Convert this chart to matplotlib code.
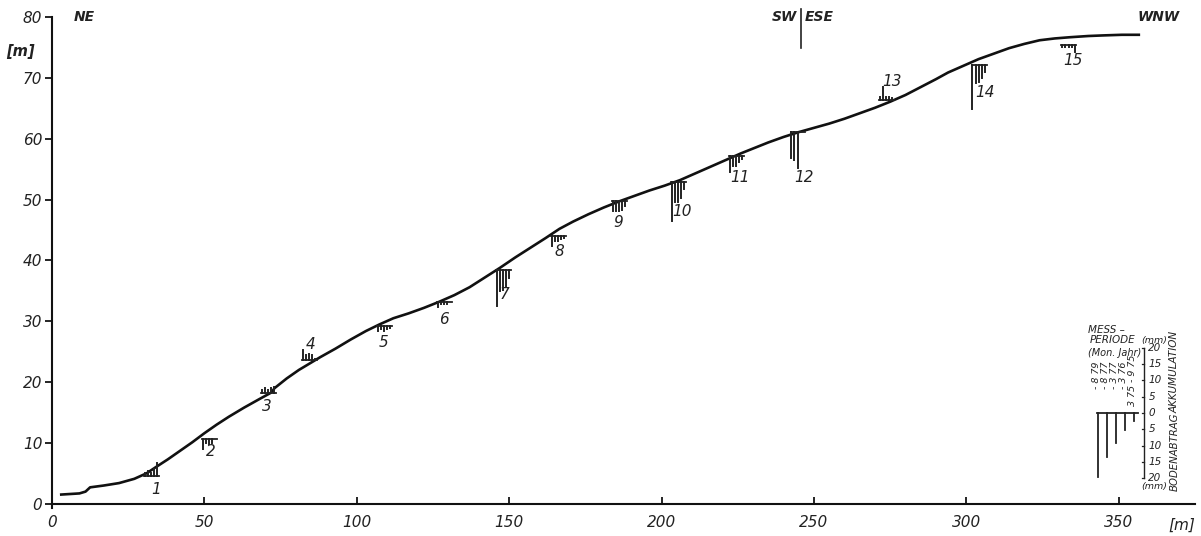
import matplotlib.pyplot as plt
import numpy as np

# Hangprofil (Entfernung / Hoehe in m)
prof_x = [2.6, 9, 11, 12.5, 17, 22, 27, 31, 34, 38, 42, 46, 50, 54, 58, 63, 68, 72, 73,
          77, 81, 88, 93, 98, 103, 107.5, 112, 117, 122, 127, 132, 137, 142, 147, 152,
          157, 162, 166.5, 171, 176, 181, 186, 191, 196, 201, 206, 211, 216, 221, 226,
          231, 235, 240, 245, 250, 255, 260, 265, 270, 275, 280, 285, 290, 294, 299,
          304, 309, 314, 319, 324, 329, 334, 340, 345, 351, 357]
prof_y = [1.5, 1.7, 2.0, 2.7, 3.0, 3.4, 4.1, 5.0, 6.0, 7.3, 8.7, 10.1, 11.6, 13.0, 14.3,
          15.8, 17.2, 18.3, 19.0, 20.6, 22.0, 24.1, 25.5, 27.0, 28.4, 29.5, 30.5, 31.3,
          32.2, 33.2, 34.3, 35.6, 37.2, 38.8, 40.5, 42.1, 43.7, 45.2, 46.4, 47.6, 48.7,
          49.7, 50.6, 51.5, 52.3, 53.2, 54.3, 55.4, 56.5, 57.6, 58.6, 59.4, 60.3, 61.1,
          61.8, 62.5, 63.3, 64.2, 65.1, 66.1, 67.2, 68.5, 69.8, 70.9, 72.0, 73.1, 74.0,
          74.9, 75.6, 76.2, 76.5, 76.7, 76.9, 77.0, 77.1, 77.1]

# Messstellen: Lage, Hoehe der Nulllinie, Bodenabtrag(-)/Akkumulation(+) in mm
st_num = list(range(1, 16))
st_x = [30.5, 49.5, 68.9, 82.3, 106.9, 126.6, 145.9, 163.9, 183.9, 203.3, 222.3, 242.6,
        271.5, 302.0, 331.5]
st_y = [4.6, 10.6, 18.2, 23.6, 29.2, 33.1, 38.4, 44.0, 49.7, 52.9, 57.2, 61.1, 66.4,
        72.1, 75.4]
st_val = [
    [1.0, 1.5, 1.0, 2.0, 4.0],
    [-3.0, -1.0, -1.5, -1.0, 0.0],
    [1.0, 1.5, 1.0, 1.5, 2.0],
    [3.0, 1.5, 2.0, 1.5, 0.5],
    [-1.5, -1.0, -1.5, -1.0, -0.5],
    [-1.5, -0.5, -0.5, -0.5, 0.0],
    [-11.0, -6.5, -6.0, -5.0, -2.5],
    [-3.0, -1.5, -1.5, -1.0, -0.5],
    [-3.0, -3.0, -3.0, -2.5, -1.5],
    [-12.0, -6.0, -6.0, -5.0, -2.0],
    [-5.0, -3.0, -3.0, -2.0, -1.0],
    [-8.0, -8.5, -11.0, 0.0, 0.0],
    [1.0, 4.0, 1.0, 1.0, 0.5],
    [-13.5, -5.5, -5.0, -4.0, -2.0],
    [-0.5, -0.5, -0.5, -0.5, -2.0],
]
# Lage der Ziffern (Versatz zur Messstelle in m)
lab_dx = [3.5, 2.5, 1.5, 2.5, 2.0, 2.0, 2.5, 2.5, 2.0, 3.5, 3.5, 4.0, 4.2, 4.0, 3.5]
lab_dy = [-2.2, -2.0, -2.2, 2.6, -2.7, -2.8, -4.0, -2.5, -3.5, -4.9, -3.5, -7.4, 3.0,
          -4.5, -2.5]

# Legende
leg_periods = ['- 8 79', '- 8 77', '- 3 77', '- 3 76', '3 75 - 9 75']
leg_val = [-19.5, -13.5, -9.0, -5.2, -2.5]
leg_ticks = [20, 15, 10, 5, 0, 5, 10, 15, 20]

MM = 0.537  # mm Bodenabtrag -> m in der Zeichnung

fig = plt.figure(figsize=(12.01, 5.36), dpi=100)
ax = fig.add_axes([0.0433, 0.0522, 0.9517, 0.9158])
ax.set_xlim(0, 375)
ax.set_ylim(-0.7, 80)

txt = dict(fontstyle='italic', family='DejaVu Sans', color='#222222')

ax.plot(prof_x, prof_y, color='#111111', lw=1.9, solid_capstyle='butt')

for n, x0, y0, vals, dx, dy in zip(st_num, st_x, st_y, st_val, lab_dx, lab_dy):
    ax.plot([x0 - 0.3, x0 + 4.6], [y0, y0], color='#222222', lw=1.3)
    for k, v in enumerate(vals):
        if v != 0:
            ax.plot([x0 + k, x0 + k], [y0, y0 + v * MM], color='#222222', lw=1.4)
    ax.text(x0 + dx, y0 + dy, str(n), ha='center', va='center', fontsize=11, **txt)

# Legende unten rechts
lx, ly = 343.3, 14.9
ax.plot([lx - 0.3, lx + 13.0], [ly, ly], color='#222222', lw=1.3)
for k, v in enumerate(leg_val):
    ax.plot([lx + 2.95 * k, lx + 2.95 * k], [ly, ly + v * MM], color='#222222', lw=1.3)
    ax.text(lx + 2.95 * k - 0.6, ly + 4.0 if k < 4 else ly + 1.1, leg_periods[k],
            rotation=90, ha='center', va='bottom', fontsize=6.8, **txt)
sx = lx + 15.1
ax.plot([sx, sx], [ly - 20 * MM, ly + 20 * MM], color='#222222', lw=1.0)
for k, t in enumerate(leg_ticks):
    yy = ly + (20 - 5 * k) * MM
    ax.plot([sx - 0.8, sx], [yy, yy], color='#222222', lw=0.9)
    ax.text(sx + 1.3, yy, str(t), ha='left', va='center', fontsize=7.5, **txt)
ax.text(sx + 3.2, ly + 12.0, '(mm)', ha='center', va='center', fontsize=6.8, **txt)
ax.text(sx + 3.4, ly - 12.0, '(mm)', ha='center', va='center', fontsize=6.8, **txt)
ax.text(lx + 2.7, ly + 13.6, 'MESS –', ha='center', va='center', fontsize=7.5, **txt)
ax.text(lx + 4.6, ly + 12.0, 'PERIODE', ha='center', va='center', fontsize=7.5, **txt)
ax.text(lx + 5.2, ly + 9.9, '(Mon. Jahr)', ha='center', va='center', fontsize=7.0, **txt)
ax.text(sx + 10.0, ly + 6.8, 'AKKUMULATION', rotation=90, ha='center', va='center',
        fontsize=7.5, **txt)
ax.text(sx + 10.0, ly - 6.4, 'BODENABTRAG', rotation=90, ha='center', va='center',
        fontsize=7.3, **txt)

# Himmelsrichtungen
ax.text(7, 80, 'NE', ha='left', va='center', fontsize=10, fontweight='bold', **txt)
ax.text(244.5, 80, 'SW', ha='right', va='center', fontsize=10, fontweight='bold', **txt)
ax.text(246.8, 80, 'ESE', ha='left', va='center', fontsize=10, fontweight='bold', **txt)
ax.plot([245.6, 245.6], [81.4, 74.9], color='#222222', lw=1.2, clip_on=False)
ax.text(363, 80, 'WNW', ha='center', va='center', fontsize=10, fontweight='bold', **txt)

# Achsen
for s in ['top', 'right']:
    ax.spines[s].set_visible(False)
ax.spines['bottom'].set_position(('data', 0))
ax.spines['left'].set_linewidth(1.5)
ax.spines['bottom'].set_linewidth(1.5)
ax.spines['left'].set_color('#111111')
ax.spines['bottom'].set_color('#111111')
ax.set_xticks(range(0, 351, 50))
ax.set_yticks(range(0, 81, 10))
ax.tick_params(axis='x', direction='in', length=5, width=1.2, pad=8, labelsize=11)
ax.tick_params(axis='y', direction='out', length=5, width=1.2, pad=2, labelsize=11)
for lab in ax.get_xticklabels() + ax.get_yticklabels():
    lab.set_fontstyle('italic')
    lab.set_color('#222222')
ax.text(-0.028, 0.93, '[m]', transform=ax.transAxes, ha='center', va='center',
        fontsize=10.5, fontweight='bold', **txt)
ax.text(375, -3.6, '[m]', ha='right', va='center', fontsize=11, **txt)

fig.savefig('out.png', dpi=100)
